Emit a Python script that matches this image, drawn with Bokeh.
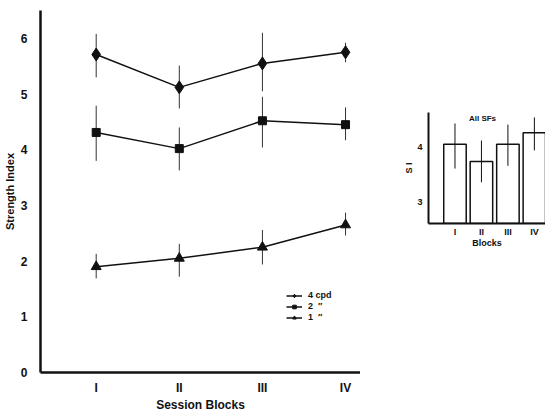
from bokeh.plotting import figure
from bokeh.models import Legend, LegendItem, Label, FixedTicker, ColumnDataSource, Spacer
from bokeh.layouts import row, column
from bokeh.embed import file_html
from bokeh.resources import INLINE

# ---- data ----
blocks = ["I", "II", "III", "IV"]
block_x = [1, 2, 3, 4]

cpd4_mean = [5.71, 5.12, 5.55, 5.75]
cpd4_lo = [5.30, 4.74, 5.05, 5.57]
cpd4_hi = [6.08, 5.51, 6.10, 5.92]

cpd2_mean = [4.31, 4.02, 4.52, 4.45]
cpd2_lo = [3.80, 3.63, 4.04, 4.17]
cpd2_hi = [4.79, 4.40, 4.95, 4.76]

cpd1_mean = [1.90, 2.05, 2.25, 2.65]
cpd1_lo = [1.69, 1.72, 1.94, 2.46]
cpd1_hi = [2.13, 2.31, 2.56, 2.87]

all_mean = [4.04, 3.73, 4.04, 4.25]
all_lo = [3.60, 3.35, 3.65, 3.93]
all_hi = [4.42, 4.11, 4.40, 4.53]

y_ticks = [0, 1, 2, 3, 4, 5, 6]
inset_ticks = [3, 4]
legend_labels = ["4 cpd", "2  \u2033", "1  \u2033"]

FONT = "Liberation Sans"
INK = "#111111"

# ---- main plot ----
p = figure(frame_width=320, frame_height=362, x_range=(0.33, 4.18), y_range=(0, 6.5),
           output_backend="svg", toolbar_location=None, min_border_top=10,
           min_border_right=0, min_border_bottom=0, min_border_left=40)
p.outline_line_color = None
p.grid.visible = False
p.background_fill_color = "white"

for ax in (p.xaxis[0], p.yaxis[0]):
    ax.axis_line_width = 2.5
    ax.axis_line_color = INK
    ax.major_tick_line_color = None
    ax.minor_tick_line_color = None
    ax.major_label_text_font = FONT
    ax.major_label_text_font_style = "bold"
    ax.major_label_text_color = INK
    ax.axis_label_text_font = FONT
    ax.axis_label_text_font_style = "bold"
    ax.axis_label_text_color = INK

p.yaxis.ticker = FixedTicker(ticks=y_ticks)
p.yaxis.major_label_text_font_size = "12px"
p.yaxis.major_label_standoff = 7
p.yaxis.axis_label = "Strength Index"
p.yaxis.axis_label_text_font_size = "11px"
p.yaxis.axis_label_standoff = 2

p.xaxis.ticker = FixedTicker(ticks=block_x)
p.xaxis.major_label_overrides = {x: b for x, b in zip(block_x, blocks)}
p.xaxis.major_label_text_font_size = "12px"
p.xaxis.major_label_standoff = 2
p.xaxis.axis_label = "Session Blocks"
p.xaxis.axis_label_text_font_size = "12px"
p.xaxis.axis_label_standoff = 0

series = [
    (cpd4_mean, cpd4_lo, cpd4_hi, "diamond", 13),
    (cpd2_mean, cpd2_lo, cpd2_hi, "square", 8),
    (cpd1_mean, cpd1_lo, cpd1_hi, "triangle", 10),
]
items = []
for (m, lo, hi, mk, sz), lab in zip(series, legend_labels):
    src = ColumnDataSource(dict(x=block_x, m=m, lo=lo, hi=hi))
    p.segment(x0="x", x1="x", y0="lo", y1="hi", source=src, line_color="#333333", line_width=1)
    ln = p.line("x", "m", source=src, line_color=INK, line_width=1.5)
    sc = p.scatter("x", "m", source=src, marker=mk, size=sz, fill_color=INK, line_color=INK)
    items.append(LegendItem(label=lab, renderers=[ln, sc]))

legend = Legend(items=items, location=(246, 50), orientation="vertical",
                label_text_font=FONT, label_text_font_style="bold", label_text_font_size="9px",
                label_text_color=INK, glyph_width=16, glyph_height=9, spacing=1,
                padding=0, margin=0, label_standoff=6, label_height=9,
                border_line_color=None, background_fill_alpha=0)
p.add_layout(legend)

# ---- inset ----
q = figure(frame_width=117, frame_height=111, x_range=(0, 4.42), y_range=(2.6, 4.62),
           output_backend="svg", toolbar_location=None, min_border_top=0,
           min_border_left=68, min_border_right=0, min_border_bottom=0)
q.outline_line_color = None
q.grid.visible = False
for ax in (q.xaxis[0], q.yaxis[0]):
    ax.axis_line_width = 2
    ax.axis_line_color = INK
    ax.major_tick_line_color = None
    ax.minor_tick_line_color = None
    ax.major_label_text_font = FONT
    ax.major_label_text_font_style = "bold"
    ax.major_label_text_font_size = "9px"
    ax.major_label_text_color = INK
    ax.axis_label_text_font = FONT
    ax.axis_label_text_font_style = "bold"
    ax.axis_label_text_font_size = "9px"
    ax.axis_label_text_color = INK
q.yaxis.ticker = FixedTicker(ticks=inset_ticks)
q.yaxis.major_label_standoff = 0
q.yaxis.axis_label = "S I"
q.yaxis.axis_label_standoff = 0
q.xaxis.ticker = FixedTicker(ticks=block_x)
q.xaxis.major_label_overrides = {x: b for x, b in zip(block_x, blocks)}
q.xaxis.major_label_standoff = -3
q.xaxis.axis_label = "Blocks"
q.xaxis.axis_label_standoff = -2

isrc = ColumnDataSource(dict(x=block_x, m=all_mean, lo=all_lo, hi=all_hi))
q.vbar(x="x", top="m", bottom=q.y_range.start, width=0.85, source=isrc,
       fill_color="white", line_color=INK, line_width=1.5)
q.segment(x0="x", x1="x", y0="lo", y1="hi", source=isrc, line_color=INK, line_width=1)
q.add_layout(Label(x=54, y=105, x_units="screen", y_units="screen", text="All SFs",
                   text_font=FONT, text_font_style="bold", text_font_size="8px",
                   text_color=INK, text_align="center", text_baseline="middle"))

layout = row(p, column(Spacer(height=112, width=10), q))
open("out.html", "w").write(file_html(layout, INLINE))
